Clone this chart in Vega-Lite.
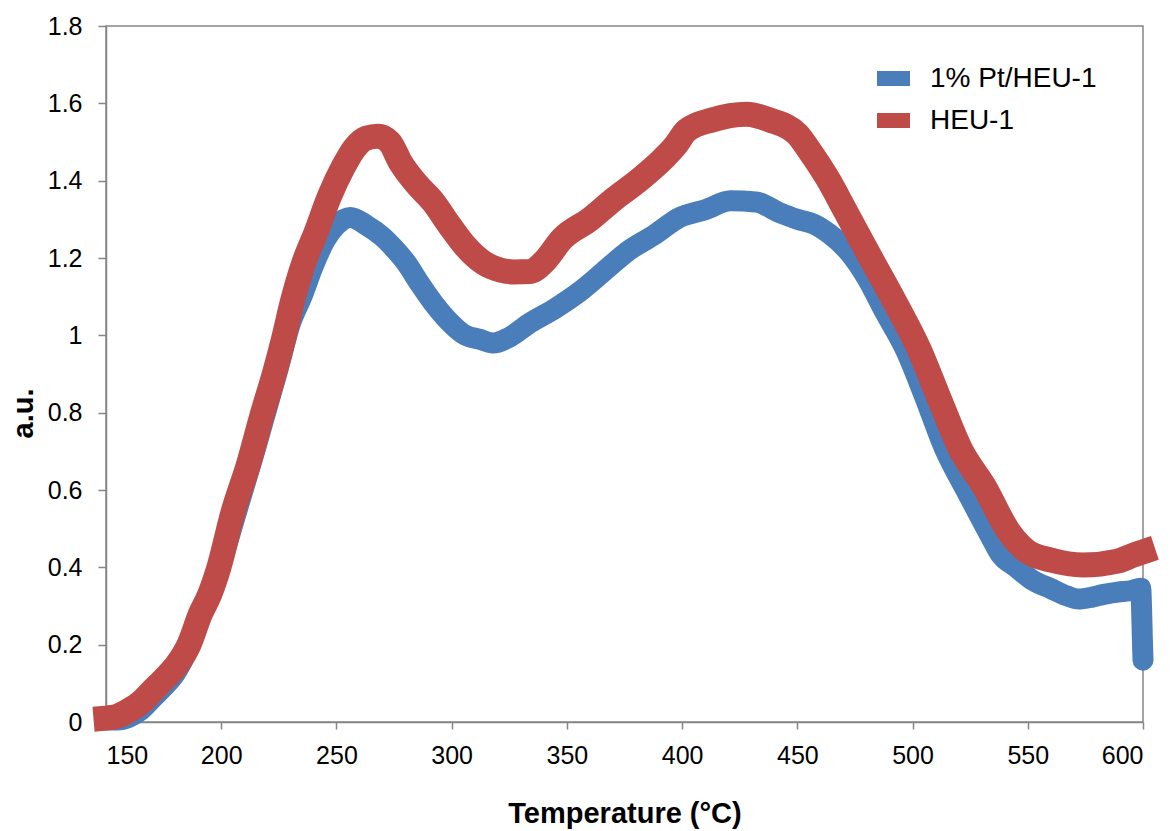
{
  "$schema": "https://vega.github.io/schema/vega-lite/v6.json",
  "width": 1037,
  "height": 696,
  "autosize": {"type": "none"},
  "padding": {"left": 106, "top": 26, "right": 27, "bottom": 109},
  "background": "white",
  "config": {
    "font": "Liberation Sans",
    "view": {"stroke": "#868686", "strokeWidth": 1.5},
    "axis": {
      "grid": false,
      "domainColor": "#868686",
      "domainWidth": 1.5,
      "tickColor": "#868686",
      "tickWidth": 1.5,
      "labelColor": "black",
      "labelFontSize": 25,
      "titleFontSize": 29,
      "titleFontWeight": "bold",
      "titleColor": "black"
    }
  },
  "datasets": {
    "pts": [
      {"series": "1% Pt/HEU-1", "t": 150, "v": 0.005},
      {"series": "1% Pt/HEU-1", "t": 155, "v": 0.005},
      {"series": "1% Pt/HEU-1", "t": 160, "v": 0.012},
      {"series": "1% Pt/HEU-1", "t": 165, "v": 0.03},
      {"series": "1% Pt/HEU-1", "t": 170, "v": 0.06},
      {"series": "1% Pt/HEU-1", "t": 175, "v": 0.09},
      {"series": "1% Pt/HEU-1", "t": 180, "v": 0.125},
      {"series": "1% Pt/HEU-1", "t": 185, "v": 0.18},
      {"series": "1% Pt/HEU-1", "t": 190, "v": 0.255},
      {"series": "1% Pt/HEU-1", "t": 195, "v": 0.33},
      {"series": "1% Pt/HEU-1", "t": 200, "v": 0.41},
      {"series": "1% Pt/HEU-1", "t": 205, "v": 0.51},
      {"series": "1% Pt/HEU-1", "t": 210, "v": 0.61},
      {"series": "1% Pt/HEU-1", "t": 215, "v": 0.71},
      {"series": "1% Pt/HEU-1", "t": 220, "v": 0.815},
      {"series": "1% Pt/HEU-1", "t": 225, "v": 0.92},
      {"series": "1% Pt/HEU-1", "t": 230, "v": 1.03},
      {"series": "1% Pt/HEU-1", "t": 235, "v": 1.1},
      {"series": "1% Pt/HEU-1", "t": 240, "v": 1.18},
      {"series": "1% Pt/HEU-1", "t": 245, "v": 1.245},
      {"series": "1% Pt/HEU-1", "t": 250, "v": 1.285},
      {"series": "1% Pt/HEU-1", "t": 256, "v": 1.305},
      {"series": "1% Pt/HEU-1", "t": 263, "v": 1.285},
      {"series": "1% Pt/HEU-1", "t": 270, "v": 1.255},
      {"series": "1% Pt/HEU-1", "t": 275, "v": 1.225},
      {"series": "1% Pt/HEU-1", "t": 280, "v": 1.19},
      {"series": "1% Pt/HEU-1", "t": 286, "v": 1.135},
      {"series": "1% Pt/HEU-1", "t": 292, "v": 1.084},
      {"series": "1% Pt/HEU-1", "t": 299, "v": 1.035},
      {"series": "1% Pt/HEU-1", "t": 306, "v": 1.0},
      {"series": "1% Pt/HEU-1", "t": 312, "v": 0.99},
      {"series": "1% Pt/HEU-1", "t": 318, "v": 0.98},
      {"series": "1% Pt/HEU-1", "t": 325, "v": 0.995},
      {"series": "1% Pt/HEU-1", "t": 334, "v": 1.032},
      {"series": "1% Pt/HEU-1", "t": 345, "v": 1.07},
      {"series": "1% Pt/HEU-1", "t": 356, "v": 1.115},
      {"series": "1% Pt/HEU-1", "t": 366, "v": 1.165},
      {"series": "1% Pt/HEU-1", "t": 377, "v": 1.22},
      {"series": "1% Pt/HEU-1", "t": 388, "v": 1.26},
      {"series": "1% Pt/HEU-1", "t": 399, "v": 1.305},
      {"series": "1% Pt/HEU-1", "t": 410, "v": 1.325},
      {"series": "1% Pt/HEU-1", "t": 421, "v": 1.348},
      {"series": "1% Pt/HEU-1", "t": 432, "v": 1.345},
      {"series": "1% Pt/HEU-1", "t": 442, "v": 1.318},
      {"series": "1% Pt/HEU-1", "t": 450, "v": 1.3},
      {"series": "1% Pt/HEU-1", "t": 457, "v": 1.288},
      {"series": "1% Pt/HEU-1", "t": 464, "v": 1.262},
      {"series": "1% Pt/HEU-1", "t": 472, "v": 1.218},
      {"series": "1% Pt/HEU-1", "t": 480, "v": 1.15},
      {"series": "1% Pt/HEU-1", "t": 488, "v": 1.06},
      {"series": "1% Pt/HEU-1", "t": 497, "v": 0.962},
      {"series": "1% Pt/HEU-1", "t": 505, "v": 0.845},
      {"series": "1% Pt/HEU-1", "t": 514, "v": 0.705},
      {"series": "1% Pt/HEU-1", "t": 524, "v": 0.59},
      {"series": "1% Pt/HEU-1", "t": 533, "v": 0.489},
      {"series": "1% Pt/HEU-1", "t": 538, "v": 0.435},
      {"series": "1% Pt/HEU-1", "t": 545, "v": 0.4},
      {"series": "1% Pt/HEU-1", "t": 552, "v": 0.367},
      {"series": "1% Pt/HEU-1", "t": 560, "v": 0.345},
      {"series": "1% Pt/HEU-1", "t": 567, "v": 0.326},
      {"series": "1% Pt/HEU-1", "t": 572, "v": 0.318},
      {"series": "1% Pt/HEU-1", "t": 578, "v": 0.323},
      {"series": "1% Pt/HEU-1", "t": 583, "v": 0.33},
      {"series": "1% Pt/HEU-1", "t": 589, "v": 0.336},
      {"series": "1% Pt/HEU-1", "t": 595, "v": 0.34},
      {"series": "1% Pt/HEU-1", "t": 599, "v": 0.346},
      {"series": "1% Pt/HEU-1", "t": 599.4, "v": 0.29},
      {"series": "1% Pt/HEU-1", "t": 599.7, "v": 0.22},
      {"series": "1% Pt/HEU-1", "t": 600, "v": 0.16},
      {"series": "HEU-1", "t": 150, "v": 0.01},
      {"series": "HEU-1", "t": 155, "v": 0.015},
      {"series": "HEU-1", "t": 160, "v": 0.03},
      {"series": "HEU-1", "t": 165, "v": 0.05},
      {"series": "HEU-1", "t": 170, "v": 0.08},
      {"series": "HEU-1", "t": 175, "v": 0.11},
      {"series": "HEU-1", "t": 181, "v": 0.15},
      {"series": "HEU-1", "t": 186, "v": 0.2},
      {"series": "HEU-1", "t": 191, "v": 0.28},
      {"series": "HEU-1", "t": 195, "v": 0.33},
      {"series": "HEU-1", "t": 199, "v": 0.4},
      {"series": "HEU-1", "t": 205, "v": 0.54},
      {"series": "HEU-1", "t": 212, "v": 0.67},
      {"series": "HEU-1", "t": 218, "v": 0.8},
      {"series": "HEU-1", "t": 223, "v": 0.9},
      {"series": "HEU-1", "t": 227, "v": 0.99},
      {"series": "HEU-1", "t": 231, "v": 1.09},
      {"series": "HEU-1", "t": 236, "v": 1.19},
      {"series": "HEU-1", "t": 241, "v": 1.264},
      {"series": "HEU-1", "t": 247, "v": 1.36},
      {"series": "HEU-1", "t": 253, "v": 1.436},
      {"series": "HEU-1", "t": 258, "v": 1.485},
      {"series": "HEU-1", "t": 263, "v": 1.51},
      {"series": "HEU-1", "t": 268, "v": 1.515},
      {"series": "HEU-1", "t": 273, "v": 1.5},
      {"series": "HEU-1", "t": 278, "v": 1.445},
      {"series": "HEU-1", "t": 285, "v": 1.39},
      {"series": "HEU-1", "t": 292, "v": 1.345},
      {"series": "HEU-1", "t": 299, "v": 1.285},
      {"series": "HEU-1", "t": 306, "v": 1.23},
      {"series": "HEU-1", "t": 314, "v": 1.187},
      {"series": "HEU-1", "t": 321, "v": 1.169},
      {"series": "HEU-1", "t": 327, "v": 1.164},
      {"series": "HEU-1", "t": 334, "v": 1.165},
      {"series": "HEU-1", "t": 340, "v": 1.19},
      {"series": "HEU-1", "t": 348, "v": 1.25},
      {"series": "HEU-1", "t": 360, "v": 1.3},
      {"series": "HEU-1", "t": 370, "v": 1.35},
      {"series": "HEU-1", "t": 381, "v": 1.4},
      {"series": "HEU-1", "t": 392, "v": 1.458},
      {"series": "HEU-1", "t": 397, "v": 1.49},
      {"series": "HEU-1", "t": 402, "v": 1.53},
      {"series": "HEU-1", "t": 413, "v": 1.557},
      {"series": "HEU-1", "t": 428, "v": 1.572},
      {"series": "HEU-1", "t": 438, "v": 1.557},
      {"series": "HEU-1", "t": 450, "v": 1.52},
      {"series": "HEU-1", "t": 455, "v": 1.48},
      {"series": "HEU-1", "t": 463, "v": 1.407},
      {"series": "HEU-1", "t": 471, "v": 1.32},
      {"series": "HEU-1", "t": 480, "v": 1.22},
      {"series": "HEU-1", "t": 492, "v": 1.09},
      {"series": "HEU-1", "t": 503, "v": 0.962},
      {"series": "HEU-1", "t": 512, "v": 0.83},
      {"series": "HEU-1", "t": 521, "v": 0.703},
      {"series": "HEU-1", "t": 531, "v": 0.61},
      {"series": "HEU-1", "t": 542, "v": 0.49},
      {"series": "HEU-1", "t": 550, "v": 0.44},
      {"series": "HEU-1", "t": 560, "v": 0.419},
      {"series": "HEU-1", "t": 574, "v": 0.406},
      {"series": "HEU-1", "t": 589, "v": 0.416},
      {"series": "HEU-1", "t": 596, "v": 0.432},
      {"series": "HEU-1", "t": 600, "v": 0.44}
    ]
  },
  "data": {"name": "pts"},
  "encoding": {
    "x": {
      "field": "t",
      "type": "quantitative",
      "scale": {"domain": [150, 600], "nice": false, "zero": false},
      "axis": {
        "values": [150, 200, 250, 300, 350, 400, 450, 500, 550, 600],
        "format": "d",
        "tickSize": 7,
        "labelPadding": 14,
        "title": "Temperature (°C)",
        "titleBaseline": "alphabetic",
        "titleY": 100,
        "titleX": 518.5,
        "titleAnchor": "middle"
      }
    },
    "y": {
      "field": "v",
      "type": "quantitative",
      "scale": {"domain": [0, 1.8], "nice": false},
      "axis": {
        "values": [0, 0.2, 0.4, 0.6, 0.8, 1, 1.2, 1.4, 1.6, 1.8],
        "format": "~g",
        "tickSize": 8,
        "labelPadding": 16,
        "title": "a.u.",
        "titleAngle": -90,
        "titleBaseline": "alphabetic",
        "titleAlign": "center",
        "titleX": -74,
        "titleY": 387
      }
    },
    "color": {
      "field": "series",
      "type": "nominal",
      "scale": {"domain": ["1% Pt/HEU-1", "HEU-1"], "range": ["#4a7ebb", "#be4b48"]},
      "legend": {
        "title": null,
        "orient": "none",
        "legendX": 771,
        "legendY": 36,
        "padding": 0,
        "symbolType": "M-1,-0.45L1,-0.45L1,0.45L-1,0.45Z",
        "symbolSize": 1089,
        "symbolStrokeWidth": 0,
        "labelFontSize": 28,
        "labelColor": "black",
        "labelOffset": 20,
        "labelLimit": 400,
        "rowPadding": 11,
        "encode": {
          "symbols": {
            "update": {
              "fill": {"scale": "color", "field": "value"},
              "stroke": {"value": "transparent"},
              "strokeWidth": {"value": 0}
            }
          }
        }
      }
    }
  },
  "layer": [
    {
      "transform": [{"filter": "datum.series === '1% Pt/HEU-1'"}],
      "mark": {"type": "line", "interpolate": "monotone", "strokeJoin": "round", "strokeCap": "round", "strokeWidth": 21}
    },
    {
      "transform": [{"filter": "datum.series === 'HEU-1'"}],
      "mark": {"type": "line", "interpolate": "monotone", "strokeJoin": "round", "strokeCap": "square", "strokeWidth": 25}
    }
  ]
}
